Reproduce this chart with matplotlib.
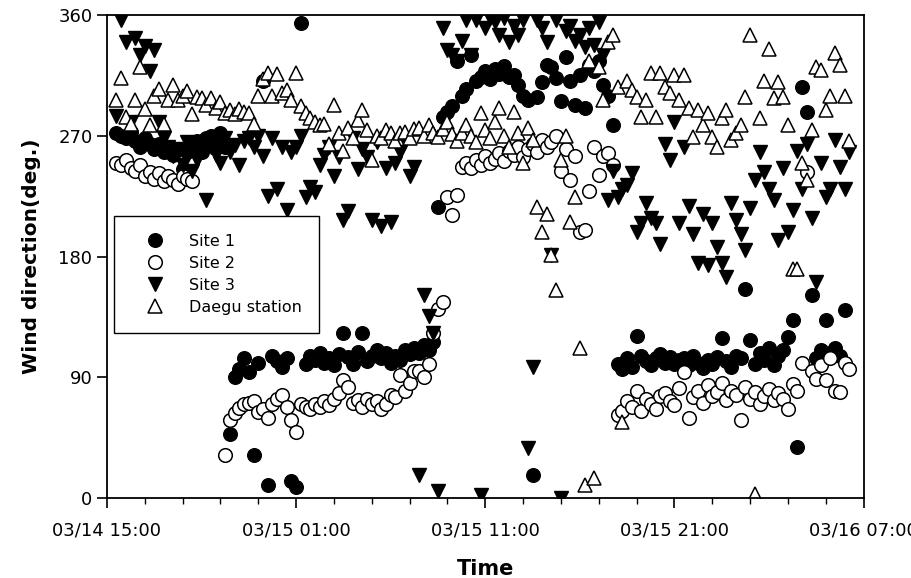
import numpy as np
import matplotlib
matplotlib.use("Agg")
import matplotlib.pyplot as plt

# hours since 03/14 15:00, one reading every 15 min
hours = np.arange(0.5, 39.5, 0.25)

nan = np.nan

site1 = [
    272, 270, 268, 273,  266, 262, 268, 264,  260, 264, 258, 262,  256, 260, 245, 258,
    262, 266, 258, 268,  270, 264, 272, 262,  48, 90, 96, 104,     94, 32, 101, 311,
    10, 106, 102, 98,    104, 13, 8, 354,     100, 106, 103, 108,  101, 104, 99, 107,
    123, 105, 100, 109,  123, 102, 106, 110,  104, 108, 101, 106,  103, 110, 107, 112,
    108, 114, 110, 116,  217, 284, 288, 292,  326, 300, 305, 330,  311, 314, 318, 312,
    320, 316, 322, 314,  315, 308, 300, 297,  17, 299, 310, 323,   321, 313, 296, 329,
    311, 293, 315, 291,  323, 318, 326, 308,  300, 278, 100, 96,   104, 98, 121, 106,
    102, 99, 104, 107,   101, 105, 100, 103,  104, 99, 106, 101,   97, 103, 100, 105,
    119, 102, 98, 106,   104, 156, 118, 100,  108, 103, 112, 99,   106, 110, 120, 133,
    38, 306, 288, 151,   104, 110, 133, 108,  112, 106, 140, nan,
]

site2 = [
    250, 248, 252, 246,  244, 248, 240, 243,  238, 242, 236, 240,  237, 234, 240, 238,
    236, nan, nan, nan,  nan, nan, nan, 32,   58, 63, 67, 70,      71, 72, 64, 66,
    60, 70, 74, 77,      68, 58, 49, 70,      68, 66, 70, 68,      72, 69, 74, 78,
    88, 83, 71, 73,      68, 74, 70, 72,      66, 70, 77, 75,      92, 80, 86, 95,
    95, 90, 100, 123,    141, 146, 224, 211,  226, 247, 250, 246,  252, 248, 255, 250,
    253, 257, 251, 259,  256, 262, 254, 260,  264, 258, 267, 262,  265, 270, 244, 260,
    237, 255, 198, 200,  229, 262, 241, 255,  257, 248, 62, 65,    72, 68, 80, 65,
    74, 70, 66, 76,      78, 72, 69, 82,      94, 60, 75, 80,      71, 84, 76, 79,
    86, 73, 80, 77,      58, 83, 74, 79,      70, 76, 81, 73,      78, 74, 66, 85,
    80, 101, 243, 95,    89, 99, 88, 104,     80, 79, 101, 96,
]

site3 = [
    285, 356, 340, 280,  343, 330, 337, 318,  334, 280, 268, 262,  255, 260, 248, 265,
    244, 252, 258, 222,  262, 256, 250, 268,  258, 263, 248, 266,  268, 262, 270, 255,
    225, 268, 230, 262,  215, 258, 262, 270,  224, 232, 228, 248,  256, 262, 240, 254,
    207, 214, 268, 245,  260, 254, 207, 265,  203, 246, 206, 250,  258, 266, 240, 247,
    17, 151, 136, 123,   5, 350, 334, 330,   326, 341, 356, 330,   356, 2, 350, 358,
    355, 345, 358, 340,  352, 345, 356, 37,   98, 356, 350, 340,   181, 356, 0, 348,
    352, 341, 345, 336,  350, 338, 355, 330,  222, 244, 224, 230,  233, 242, 198, 205,
    220, 209, 205, 189,  264, 252, 280, 205,  262, 218, 197, 175,  212, 174, 205, 187,
    175, 165, 220, 207,  197, 185, 216, 237,  258, 243, 230, 222,  192, 246, 198, 215,
    259, 230, 264, 209,  161, 250, 224, 230,  267, 247, 230, 258,
]

daegu = [
    297, 313, 284, 279,  297, 321, 290, 278,  300, 305, 279, 297,  308, 297, 300, 303,
    286, 299, 298, 293,  298, 291, 295, 287,  289, 286, 290, 288,  287, 279, 300, 312,
    317, 300, 316, 302,  304, 297, 317, 292,  287, 283, 280, 278,  279, 264, 293, 272,
    259, 276, 268, 282,  289, 274, 252, 270,  268, 274, 272, 266,  272, 273, 268, 275,
    276, 270, 278, 272,  269, 275, 280, 271,  266, 272, 278, 270,  265, 287, 274, 268,
    280, 291, 270, 262,  288, 272, 250, 276,  267, 217, 198, 212,  181, 155, 252, 270,
    206, 224, 112, 10,   326, 15, 321, 297,  340, 345, 306, 57,   311, 304, 299, 284,
    297, 317, 284, 317,  306, 302, 315, 297,  315, 291, 269, 289,  278, 287, 269, 262,
    283, 289, 267, 272,  278, 299, 345, 3,    283, 311, 335, 298,  310, 299, 278, 171,
    171, 250, 237, 274,  321, 319, 289, 300,  332, 323, 300, 266,
]

tick_hours = [0, 10, 20, 30, 40]
tick_labels = ['03/14 15:00', '03/15 01:00', '03/15 11:00', '03/15 21:00', '03/16 07:00']

fig = plt.figure(figsize=(9.12, 5.78), dpi=100)
ax = fig.add_axes([0.1173, 0.1384, 0.8296, 0.8356])

ax.plot(hours, site1, 'o', ms=9.8, mfc='black', mec='black', mew=1.0, label='Site 1')
ax.plot(hours, site2, 'o', ms=9.8, mfc='white', mec='black', mew=1.1, label='Site 2')
ax.plot(hours, site3, 'v', ms=10.5, mfc='black', mec='black', mew=1.0, label='Site 3')
ax.plot(hours, daegu, '^', ms=10.5, mfc='white', mec='black', mew=1.1, label='Daegu station')

ax.set_xlim(0, 40)
ax.set_ylim(0, 360)
ax.set_yticks([0, 90, 180, 270, 360])
ax.set_xticks(tick_hours)
ax.set_xticklabels(tick_labels)
ax.set_xticks(np.arange(0, 41, 2), minor=True)
ax.tick_params(axis='both', which='major', direction='out', length=7, width=1.2,
               labelsize=13, top=False, right=False)
ax.tick_params(axis='x', which='minor', direction='out', length=4, width=1.0)
ax.tick_params(axis='x', pad=10)
for sp in ax.spines.values():
    sp.set_linewidth(1.3)

ax.set_xlabel('Time', fontsize=15, fontweight='bold', labelpad=14)
ax.set_ylabel('Wind direction(deg.)', fontsize=14.5, fontweight='bold', labelpad=12)

leg = ax.legend(loc='upper left', bbox_to_anchor=(0.009, 0.584), borderaxespad=0,
                fontsize=11.5, frameon=True, fancybox=False, edgecolor='black',
                framealpha=1, borderpad=1.1, handletextpad=0.7, labelspacing=0.45,
                handlelength=2.9)
leg.get_frame().set_linewidth(1.0)

fig.savefig('out.png', dpi=100)
